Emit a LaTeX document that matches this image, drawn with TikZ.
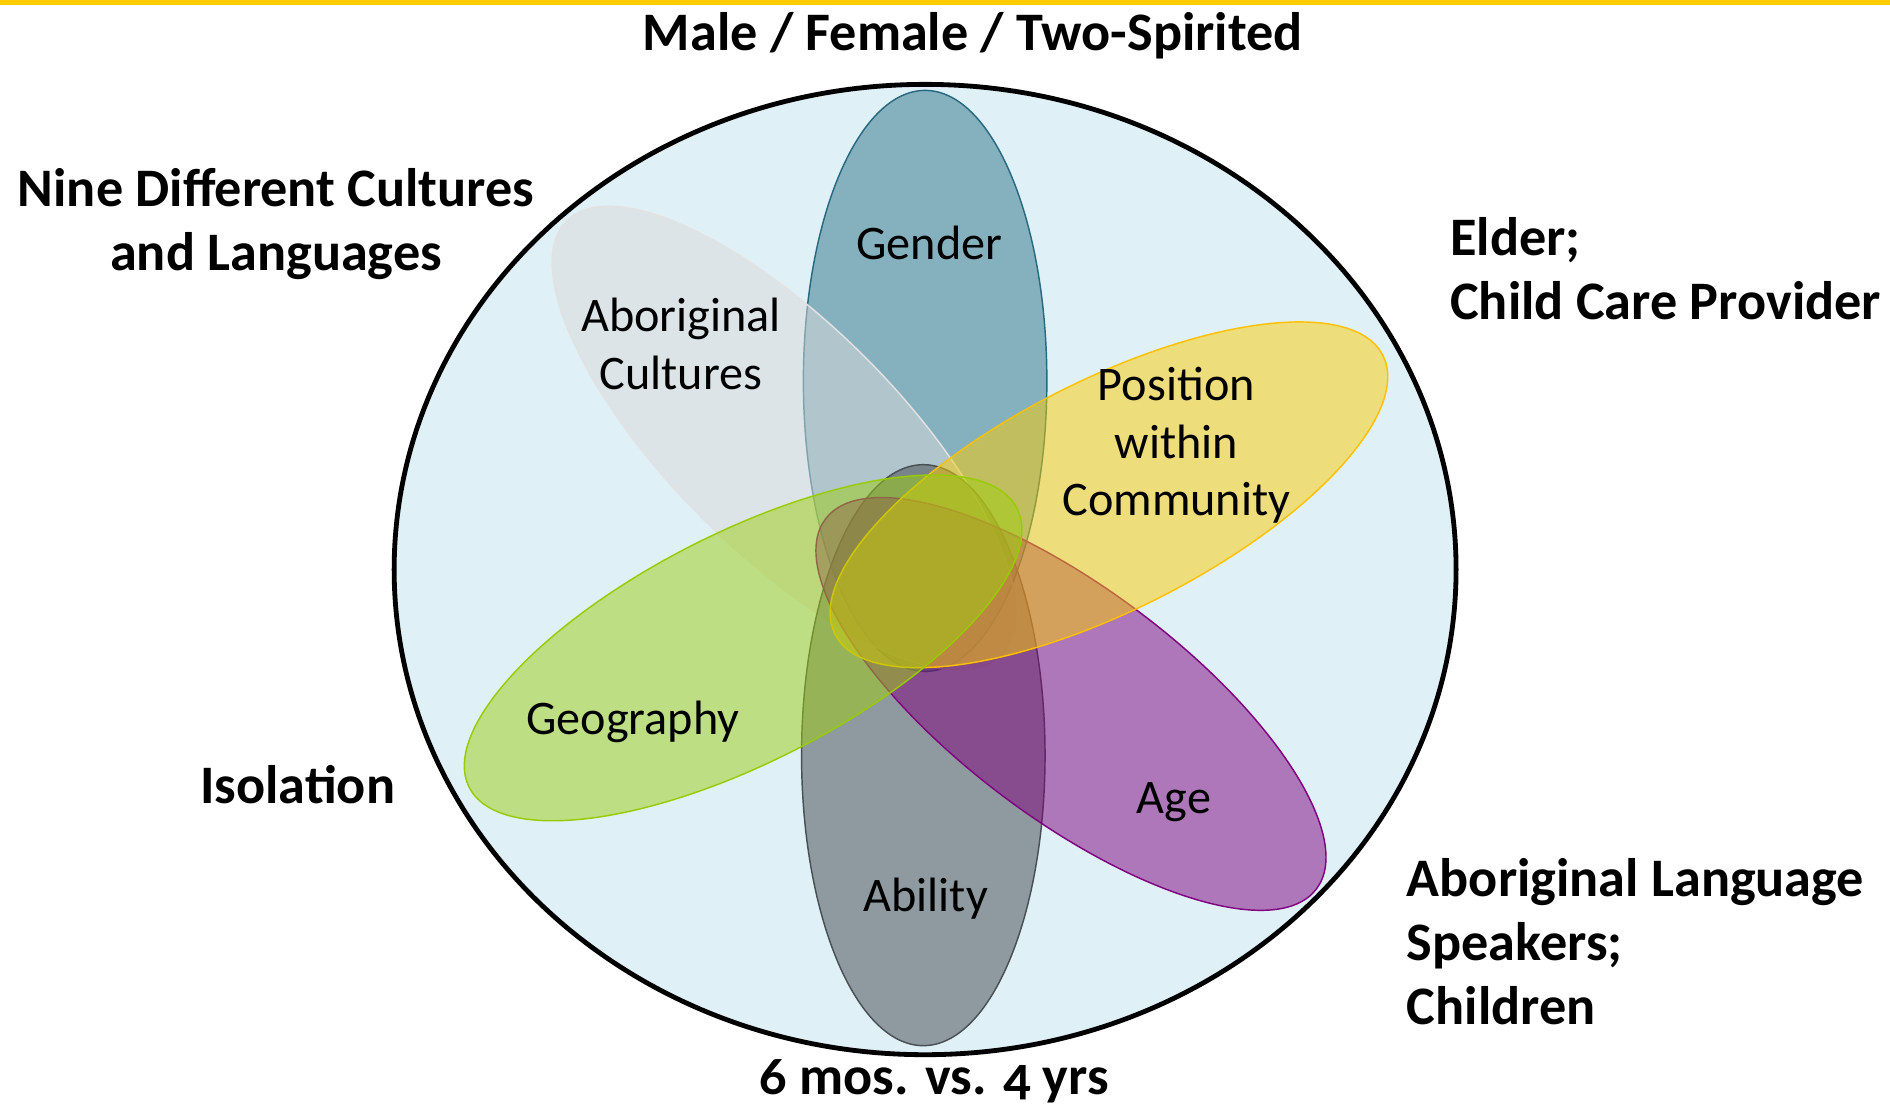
\documentclass[tikz,border=0pt]{standalone}
\usepackage{fontspec}
\setmainfont{Carlito}[Numbers=OldStyle]
\definecolor{topbar}{RGB}{255,204,0}
\definecolor{bgblue}{RGB}{223,240,247}
\definecolor{gender}{RGB}{45,116,137}
\definecolor{gender line}{RGB}{40,105,128}
\definecolor{culture}{RGB}{219,218,217}
\definecolor{culture line}{RGB}{226,226,226}
\definecolor{ability}{RGB}{63,70,73}
\definecolor{ability line}{RGB}{72,80,84}
\definecolor{age}{RGB}{127,0,125}
\definecolor{age line}{RGB}{128,0,128}
\definecolor{position}{RGB}{251,204,0}
\definecolor{position line}{RGB}{255,192,0}
\definecolor{geography}{RGB}{159,206,17}
\definecolor{geography line}{RGB}{153,204,0}

\begin{document}
\begin{tikzpicture}[x=1pt, y=-1pt, petal/.style={line width=1.2pt, fill opacity=0.5}, outer/.style={inner sep=0pt, font=\fontsize{45}{53}\selectfont\bfseries}, inner/.style={inner sep=0pt, align=center, font=\fontsize{40}{48}\selectfont}]
\useasboundingbox (0,0) rectangle (1568,921);
\fill[topbar] (0,0) rectangle (1568,4);
\draw[line width=4pt, fill=bgblue] (767.5,472.5) ellipse [x radius=440.5pt, y radius=402.5pt];

% petals, drawn bottom to top
\foreach \cx/\cy/\rx/\ry/\ang/\clr in {767.5/316/101/241/0/gender, 650.5/363.5/255/95/-45/culture, 766/626.5/101/241/0/ability, 888.5/584/255/95/-37/age, 920/410.5/255/95/27/position, 616.5/537.5/255/95/27/geography}{
  \draw[petal, draw=\clr\space line, fill=\clr, rotate around={\ang:(\cx,\cy)}] (\cx,\cy) ellipse [x radius=\rx pt, y radius=\ry pt];
}

% base of a multi-line node = baseline of its last line
\node[inner, anchor=base] (lgender) at (771,215) {Gender};
\node[inner, anchor=base] (lculture) at (565,323) {Aboriginal\\Cultures};
\node[inner, anchor=base] (lposition) at (976,428) {Position\\within\\Community};
\node[inner, anchor=base] (lgeography) at (525,609) {Geography};
\node[inner, anchor=base] (lage) at (974,675) {Age};
\node[inner, anchor=base] (lability) at (768,756) {Ability};

\node[outer, anchor=base] (male) at (807,42) {Male / Female / Two-Spirited};
\node[outer, anchor=base, align=center] (nine) at (229,224) {Nine Different Cultures\\and Languages};
\node[outer, anchor=base west, align=left] (elder) at (1203,265) {Elder;\\Child Care Provider};
\node[outer, anchor=base] (isolation) at (247,667) {Isolation};
\node[outer, anchor=base west, align=left] (speakers) at (1167,850) {Aboriginal Language\\Speakers;\\Children};
\node[outer, anchor=base] (months) at (775,908) {6 mos. vs. 4 yrs};
\end{tikzpicture}
\end{document}
